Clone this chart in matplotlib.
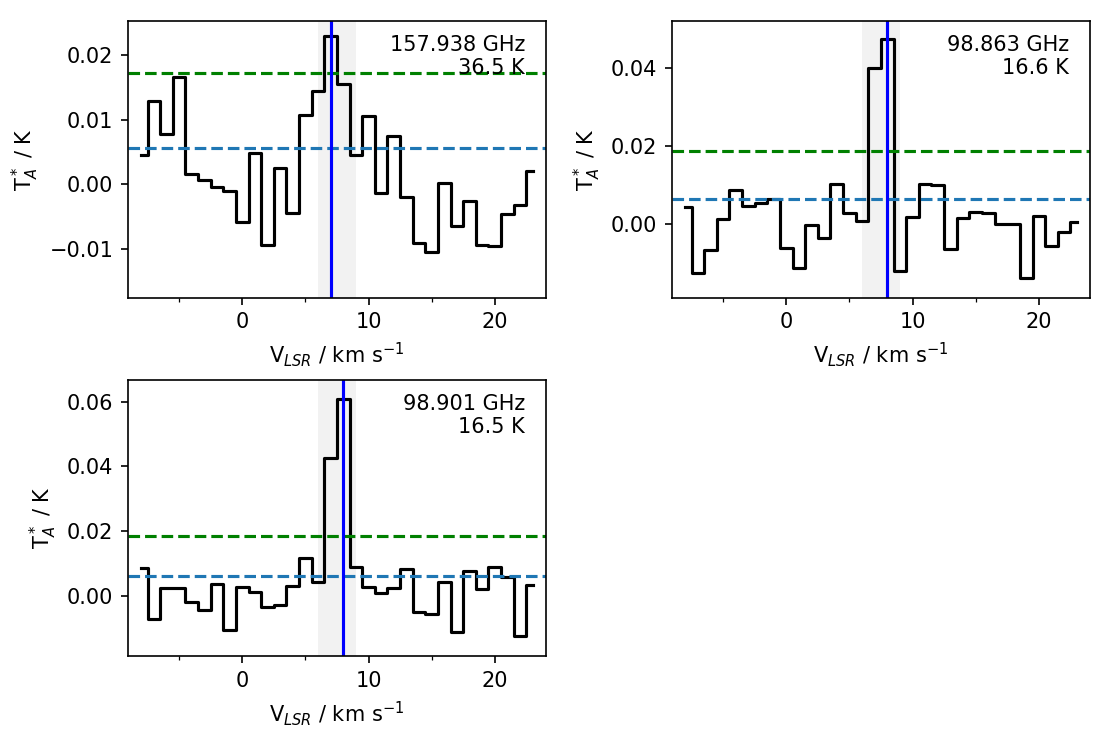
import numpy as np
import matplotlib
matplotlib.use('Agg')
import matplotlib.pyplot as plt
from matplotlib.ticker import MultipleLocator

# channel velocities (km/s), 1 km/s channels
vel = np.arange(-8, 24)

# 157.938 GHz
spec_1 = [0.0046, 0.0129, 0.0078, 0.0166, 0.0016, 0.0007, -0.0004, -0.0010,
          -0.0058, 0.0049, -0.0093, 0.0025, -0.0044, 0.0107, 0.0144, 0.0229,
          0.0155, 0.0046, 0.0106, -0.0014, 0.0075, -0.0019, -0.0090, -0.0105,
          0.0002, -0.0065, -0.0026, -0.0093, -0.0095, -0.0046, -0.0032, 0.0021]
# 98.863 GHz
spec_2 = [0.0043, -0.0125, -0.0065, 0.0014, 0.0088, 0.0047, 0.0054, 0.0064,
          -0.0060, -0.0113, -0.0002, -0.0036, 0.0103, 0.0029, 0.0009, 0.0400,
          0.0473, -0.0120, 0.0018, 0.0103, 0.0101, -0.0064, 0.0015, 0.0032,
          0.0029, 0.0001, 0.0001, -0.0138, 0.0020, -0.0056, -0.0021, 0.0005]
# 98.901 GHz
spec_3 = [0.0085, -0.0072, 0.0025, 0.0025, -0.0019, -0.0044, 0.0035, -0.0106,
          0.0027, 0.0012, -0.0036, -0.0029, 0.0031, 0.0115, 0.0043, 0.0425,
          0.0607, 0.0087, 0.0028, 0.0009, 0.0023, 0.0082, -0.0052, -0.0058,
          0.0043, -0.0114, 0.0076, 0.0020, 0.0087, 0.0056, -0.0124, 0.0033]

freqs = ['157.938 GHz', '98.863 GHz', '98.901 GHz']
eups = ['36.5 K', '16.6 K', '16.5 K']
vlsr = [7.0, 8.0, 8.0]
rms_3 = [0.0173, 0.0188, 0.0184]   # green dashed
rms_1 = [0.0057, 0.0064, 0.0062]   # blue dashed
ylims = [(-0.0175, 0.0252), (-0.0188, 0.0518), (-0.0187, 0.0667)]
spectra = [spec_1, spec_2, spec_3]

fig, axes = plt.subplots(2, 2, figsize=(7.42, 4.92), dpi=150)
fig.subplots_adjust(left=0.115, right=0.9793, top=0.971, bottom=0.111,
                    wspace=0.3016, hspace=0.2977)
axes = axes.flatten()

for i, ax in enumerate(axes[:3]):
    ax.axvspan(6, 9, color='gray', alpha=0.1, lw=0)
    ax.step(vel, spectra[i], where='mid', color='k', lw=1.5)
    ax.axhline(rms_3[i], color='green', ls='--', lw=1.5)
    ax.axhline(rms_1[i], color='C0', ls='--', lw=1.5)
    ax.axvline(vlsr[i], color='blue', lw=1.5)
    ax.text(0.95, 0.95, freqs[i] + '\n' + eups[i], transform=ax.transAxes,
            ha='right', va='top', fontsize=10)
    ax.set_xlim(-9.05, 24.05)
    ax.set_ylim(*ylims[i])
    ax.xaxis.set_major_locator(MultipleLocator(10))
    ax.xaxis.set_minor_locator(MultipleLocator(5))
    ax.set_xlabel(r'V$_{LSR}$ / km s$^{-1}$')
    ax.set_ylabel(r'T$^*_A$ / K')

axes[3].axis('off')

fig.savefig('out.png', dpi=150)
